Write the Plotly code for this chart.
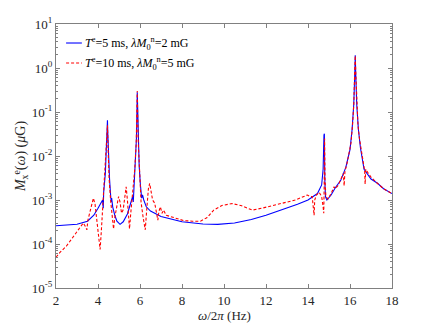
import plotly.graph_objects as go

# blue: T^e = 5 ms
freq_a = [2.0, 2.5, 3.0, 3.5, 3.8, 4.0, 4.15, 4.22, 4.25, 4.27, 4.35, 4.40, 4.43, 4.45,
          4.47, 4.50, 4.55, 4.60, 4.63, 4.65, 4.70, 4.80, 4.90, 5.05, 5.20, 5.40, 5.55,
          5.65, 5.68, 5.72, 5.78, 5.83, 5.87, 5.91, 5.96, 6.02, 6.08, 6.12, 6.18, 6.30,
          6.50, 7.0, 7.5, 8.0, 9.0, 9.7, 10.5, 11.3, 12.0, 12.9, 13.5, 14.0, 14.45,
          14.65, 14.72, 14.76, 14.78, 14.80, 14.83, 14.90, 15.1, 15.3, 15.56, 15.8,
          16.0, 16.1, 16.18, 16.23, 16.25, 16.27, 16.32, 16.4, 16.5, 16.67, 17.0, 17.31,
          17.6, 18.0]
mag_a = [2.6e-4, 2.65e-4, 2.8e-4, 3.3e-4, 4.5e-4, 6.5e-4, 9e-4, 1.0e-3, 6.5e-4, 1.5e-3,
         4e-3, 1.5e-2, 4e-2, 6.5e-2, 3e-2, 1e-2, 3e-3, 1.3e-3, 9e-4, 1.1e-3, 7e-4, 4.5e-4,
         3.3e-4, 2.8e-4, 3.2e-4, 4.8e-4, 8e-4, 1.2e-3, 9e-4, 2e-3, 6e-3, 2.5e-2, 0.28,
         3e-2, 6e-3, 2.2e-3, 1.1e-3, 1.3e-3, 1.0e-3, 7e-4, 5.6e-4, 4.2e-4, 3.6e-4, 3.2e-4,
         2.85e-4, 2.8e-4, 3.0e-4, 3.6e-4, 4.5e-4, 6.3e-4, 8e-4, 1.0e-3, 1.4e-3, 2.2e-3,
         5e-3, 3e-2, 3.2e-2, 3e-3, 1.2e-3, 1.0e-3, 1.3e-3, 1.9e-3, 2.8e-3, 5.5e-3, 1.4e-2,
         4e-2, 0.15, 0.8, 1.95, 0.8, 0.15, 4e-2, 1.5e-2, 5e-3, 3e-3, 2.4e-3, 1.8e-3, 1.4e-3]

# red dashed: T^e = 10 ms
freq_b = [2.0, 2.2, 2.5, 2.83, 3.1, 3.3, 3.4, 3.47, 3.52, 3.6, 3.7, 3.78, 3.86, 3.92,
          3.98, 4.05, 4.1, 4.16, 4.22, 4.3, 4.38, 4.43, 4.45, 4.48, 4.53, 4.6, 4.68,
          4.74, 4.8, 4.9, 4.98, 5.05, 5.12, 5.2, 5.28, 5.34, 5.4, 5.45, 5.5, 5.56, 5.65,
          5.75, 5.82, 5.87, 5.91, 5.97, 6.05, 6.15, 6.25, 6.32, 6.4, 6.46, 6.52, 6.6,
          6.7, 6.78, 6.85, 6.9, 6.97, 7.05, 7.12, 7.25, 7.44, 7.7, 8.08, 8.5, 8.88, 9.2,
          9.51, 9.9, 10.39, 10.8, 11.35, 11.8, 12.3, 12.86, 13.4, 13.97, 14.1, 14.2,
          14.26, 14.29, 14.32, 14.4, 14.53, 14.65, 14.72, 14.75, 14.77, 14.79, 14.81,
          14.85, 14.95, 15.1, 15.24, 15.3, 15.45, 15.6, 15.68, 15.72, 15.76, 15.85,
          15.95, 16.05, 16.12, 16.18, 16.22, 16.25, 16.28, 16.32, 16.38, 16.45, 16.55,
          16.65, 16.7, 16.72, 16.75, 16.85, 17.0, 17.3, 17.6, 18.0]
mag_b = [5e-5, 6.5e-5, 9e-5, 1.5e-4, 2.2e-4, 3.0e-4, 2.5e-4, 2.1e-4, 3.5e-4, 5e-4, 8e-4,
         1.1e-3, 8e-4, 4e-4, 2e-4, 1.0e-4, 7.5e-5, 2e-4, 6e-4, 2e-3, 8e-3, 3e-2, 5e-2,
         1.5e-2, 3e-3, 1e-3, 4e-4, 2.2e-4, 4e-4, 8e-4, 1.2e-3, 9e-4, 5e-4, 6e-4, 1.3e-3,
         2.0e-3, 1.0e-3, 4e-4, 2.2e-4, 5e-4, 1.5e-3, 5e-3, 2e-2, 0.3, 2.5e-2, 4e-3, 9e-4,
         4e-4, 2.1e-4, 6e-4, 1.8e-3, 2.4e-3, 1.5e-3, 1.0e-3, 8.5e-4, 5e-4, 3.5e-4, 5.5e-4,
         7e-4, 5e-4, 5.9e-4, 4.5e-4, 4.2e-4, 3.8e-4, 3.4e-4, 3.3e-4, 3.3e-4, 4.0e-4,
         5.9e-4, 7.5e-4, 8.3e-4, 7.5e-4, 5.9e-4, 6.5e-4, 7.5e-4, 8.7e-4, 1.0e-3, 1.3e-3,
         1.2e-3, 1.2e-3, 6e-4, 4.5e-4, 1.0e-3, 1.3e-3, 1.5e-3, 1.2e-3, 7e-4, 5e-4, 2e-3,
         2.5e-2, 3e-3, 1.2e-3, 1.05e-3, 1.4e-3, 2.0e-3, 1.8e-3, 2.2e-3, 3.2e-3, 4e-3,
         2.1e-3, 4.5e-3, 6.5e-3, 1.1e-2, 2e-2, 5e-2, 0.15, 0.7, 1.9, 0.7, 0.15, 5e-2,
         2.5e-2, 1.2e-2, 7e-3, 4.5e-3, 2.3e-3, 5e-3, 4.2e-3, 3.3e-3, 2.4e-3, 1.8e-3, 1.4e-3]

x_ticks = [2, 4, 6, 8, 10, 12, 14, 16, 18]
y_ticks = [1e-5, 1e-4, 1e-3, 1e-2, 1e-1, 1e0, 1e1]
y_labels = ["10<sup>-5</sup>", "10<sup>-4</sup>", "10<sup>-3</sup>", "10<sup>-2</sup>",
            "10<sup>-1</sup>", "10<sup>0</sup>", "10<sup>1</sup>"]
y_minor = [m * 10.0 ** e for e in range(-5, 1) for m in range(2, 10)]

names = ["<i>T</i><sup>e</sup>=5 ms, <i>λM</i><sub>0</sub><sup>n</sup>=2 mG",
         "<i>T</i><sup>e</sup>=10 ms, <i>λM</i><sub>0</sub><sup>n</sup>=5 mG"]
colors = ["#0000ff", "#ff0000"]
dashes = ["solid", "3px,2px"]

serif = "Liberation Serif, Times New Roman, serif"

fig = go.Figure()
for fx, my, name, col, dsh in zip([freq_a, freq_b], [mag_a, mag_b], names, colors, dashes):
    fig.add_trace(go.Scatter(x=fx, y=my, mode="lines", name=name,
                             line=dict(color=col, width=1.1, dash=dsh)))

# legend drawn by hand so the sample line is short, as in the original
for i, (name, col, dsh) in enumerate(zip(names, colors, dashes)):
    ly = 0.928 - i * 0.076
    fig.add_shape(type="line", xref="paper", yref="paper", x0=0.030, x1=0.077,
                  y0=ly, y1=ly, line=dict(color=col, width=1.1, dash=dsh))
    fig.add_annotation(xref="paper", yref="paper", x=0.079, y=ly, text=name,
                       showarrow=False, xanchor="left", yanchor="middle",
                       font=dict(family=serif, size=12, color="#000000"))

fig.add_annotation(xref="paper", yref="paper", x=0.5, y=-0.104,
                   text="<i>ω</i>/2<i>π</i> (Hz)", showarrow=False,
                   xanchor="center", yanchor="middle",
                   font=dict(family=serif, size=13, color="#262626"))

axis_common = dict(
    showline=True, linecolor="#808080", linewidth=1, mirror="allticks",
    ticks="inside", ticklen=4, tickcolor="#808080", showgrid=False, zeroline=False,
    tickfont=dict(family=serif, size=13, color="#262626"),
)

fig.update_layout(
    width=432, height=324,
    margin=dict(l=56, r=40, t=24, b=36),
    paper_bgcolor="white", plot_bgcolor="white",
    font=dict(family=serif, size=13, color="#262626"),
    showlegend=False,
    xaxis=dict(range=[2, 18], tickvals=x_ticks, **axis_common),
    yaxis=dict(type="log", range=[-5, 1], tickvals=y_ticks, ticktext=y_labels,
               minor=dict(ticks="inside", ticklen=2, tickcolor="#808080",
                          tickmode="array", tickvals=y_minor, showgrid=False),
               title=dict(text="<i>M</i><sub>x</sub><sup>e</sup>(<i>ω</i>) (<i>μ</i>G)",
                          standoff=2, font=dict(family=serif, size=14)),
               **axis_common),
)

# the page body has a default 8px margin; drop it so the figure fills the window
fig.write_html("out.html", config={"displayModeBar": False},
               post_script="document.body.style.margin='0';")
